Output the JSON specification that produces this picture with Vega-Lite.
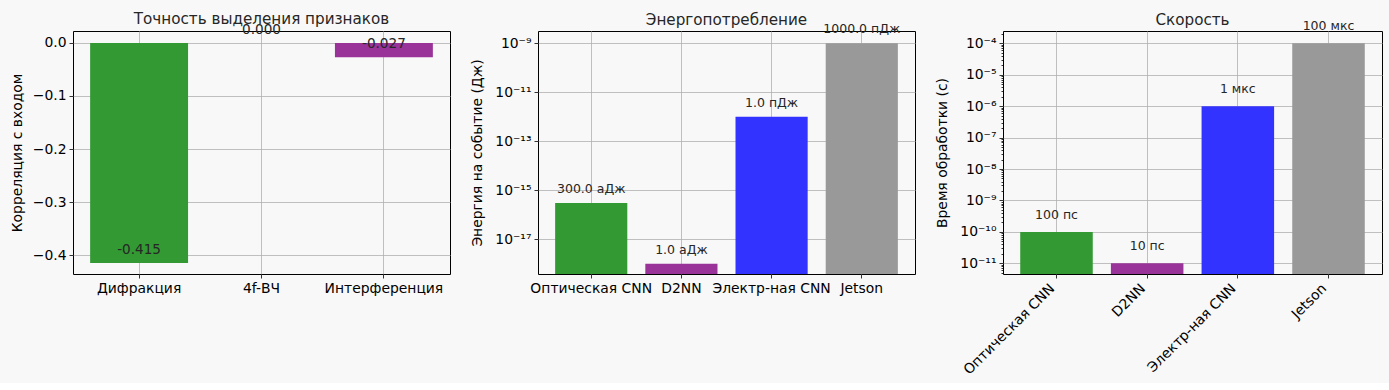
{
  "$schema": "https://vega.github.io/schema/vega-lite/v6.json",
  "background": "#f8f8f8",
  "padding": {"left": 9, "top": 11, "right": 6, "bottom": 5},
  "spacing": 19,
  "config": {
    "font": "DejaVu Sans",
    "view": {"stroke": "#000000", "strokeWidth": 1},
    "axis": {
      "domain": false,
      "ticks": true,
      "tickColor": "#000000",
      "tickSize": 4,
      "tickWidth": 0.8,
      "labelFontSize": 13.9,
      "labelColor": "#000000",
      "labelPadding": 3,
      "titleFontSize": 13.9,
      "titleFontWeight": "normal",
      "titleColor": "#000000",
      "grid": true,
      "gridColor": "#b0b0b0",
      "gridWidth": 0.8
    },
    "title": {"fontSize": 15.2, "fontWeight": "normal", "color": "#262626", "baseline": "alphabetic"}
  },
  "datasets": {
    "corr": [
      {"method": "Дифракция", "corr": -0.415, "label": "-0.415"},
      {"method": "4f-ВЧ", "corr": 0.0, "label": "0.000"},
      {"method": "Интерференция", "corr": -0.027, "label": "-0.027"}
    ],
    "energy": [
      {"system": "Оптическая CNN", "energy": 3e-16, "label": "300.0 аДж"},
      {"system": "D2NN", "energy": 1e-18, "label": "1.0 аДж"},
      {"system": "Электр-ная CNN", "energy": 1e-12, "label": "1.0 пДж"},
      {"system": "Jetson", "energy": 1e-9, "label": "1000.0 пДж"}
    ],
    "speed": [
      {"system": "Оптическая CNN", "time": 1e-10, "label": "100 пс"},
      {"system": "D2NN", "time": 1e-11, "label": "10 пс"},
      {"system": "Электр-ная CNN", "time": 1e-6, "label": "1 мкс"},
      {"system": "Jetson", "time": 1e-4, "label": "100 мкс"}
    ]
  },
  "hconcat": [
    {
      "width": 377,
      "height": 243,
      "title": {"text": "Точность выделения признаков", "offset": -4.3},
      "data": {"name": "corr"},
      "encoding": {
        "x": {"field": "method", "type": "nominal", "sort": null,
              "scale": {"paddingInner": 0.2, "paddingOuter": 0.14},
              "axis": {"title": null, "labelAngle": 0, "bandPosition": 0.5}},
        "y": {"field": "corr", "type": "quantitative",
              "scale": {"domain": [-0.4358, 0.0226], "nice": false, "zero": false},
              "axis": {"title": "Корреляция с входом", "values": [0, -0.1, -0.2, -0.3, -0.4], "format": ".1f", "titlePadding": 8}}
      },
      "layer": [
        {"mark": {"type": "bar"},
         "encoding": {"color": {"field": "method", "type": "nominal", "legend": null,
           "scale": {"domain": ["Дифракция", "4f-ВЧ", "Интерференция"], "range": ["#339933", "#3333ff", "#993399"]}}}},
        {"mark": {"type": "text", "dy": -9, "baseline": "alphabetic", "fontSize": 13.6, "color": "#262626"},
         "encoding": {"text": {"field": "label"}}}
      ]
    },
    {
      "width": 377,
      "height": 243,
      "title": {"text": "Энергопотребление", "offset": -4.8},
      "data": {"name": "energy"},
      "encoding": {
        "x": {"field": "system", "type": "nominal", "sort": null,
              "scale": {"paddingInner": 0.2, "paddingOuter": 0.19},
              "axis": {"title": null, "labelAngle": 0, "bandPosition": 0.5}},
        "y": {"field": "energy", "type": "quantitative",
              "scale": {"type": "log", "domain": [3.84e-19, 3.18e-9], "nice": false},
              "axis": {"title": "Энергия на событие (Дж)", "values": [1e-17, 1e-15, 1e-13, 1e-11, 1e-9], "titlePadding": 10,
                       "labelExpr": "'10' + replace(replace(replace(replace(replace(replace(replace(replace(replace(replace(replace(toString(round(log(datum.value)/LN10)), regexp('-','g'), '⁻'), regexp('0','g'), '⁰'), regexp('1','g'), '¹'), regexp('2','g'), '²'), regexp('3','g'), '³'), regexp('4','g'), '⁴'), regexp('5','g'), '⁵'), regexp('6','g'), '⁶'), regexp('7','g'), '⁷'), regexp('8','g'), '⁸'), regexp('9','g'), '⁹')"}}
      },
      "layer": [
        {"mark": {"type": "bar", "clip": true},
         "encoding": {"y2": {"datum": 1e-30},
           "color": {"field": "system", "type": "nominal", "legend": null,
           "scale": {"domain": ["Оптическая CNN", "D2NN", "Электр-ная CNN", "Jetson"], "range": ["#339933", "#993399", "#3333ff", "#999999"]}}}},
        {"mark": {"type": "text", "dy": -10, "baseline": "alphabetic", "fontSize": 12.5, "color": "#262626"},
         "encoding": {"text": {"field": "label"}}}
      ]
    },
    {
      "width": 379,
      "height": 243,
      "title": {"text": "Скорость", "offset": -7.8},
      "data": {"name": "speed"},
      "encoding": {
        "x": {"field": "system", "type": "nominal", "sort": null,
              "scale": {"paddingInner": 0.2, "paddingOuter": 0.19},
              "axis": {"title": null, "labelAngle": -45, "labelAlign": "right", "labelBaseline": "middle", "labelPadding": 8, "labelOffset": -4, "bandPosition": 0.5}},
        "y": {"field": "time", "type": "quantitative",
              "scale": {"type": "log", "domain": [4.57e-12, 2.47e-4], "nice": false},
              "axis": {"title": "Время обработки (с)", "titlePadding": 10,
                       "values": [5e-12, 6e-12, 7e-12, 8e-12, 9e-12,
                                  1e-11, 2e-11, 3e-11, 4e-11, 5e-11, 6e-11, 7e-11, 8e-11, 9e-11,
                                  1e-10, 2e-10, 3e-10, 4e-10, 5e-10, 6e-10, 7e-10, 8e-10, 9e-10,
                                  1e-9, 2e-9, 3e-9, 4e-9, 5e-9, 6e-9, 7e-9, 8e-9, 9e-9,
                                  1e-8, 2e-8, 3e-8, 4e-8, 5e-8, 6e-8, 7e-8, 8e-8, 9e-8,
                                  1e-7, 2e-7, 3e-7, 4e-7, 5e-7, 6e-7, 7e-7, 8e-7, 9e-7,
                                  1e-6, 2e-6, 3e-6, 4e-6, 5e-6, 6e-6, 7e-6, 8e-6, 9e-6,
                                  1e-5, 2e-5, 3e-5, 4e-5, 5e-5, 6e-5, 7e-5, 8e-5, 9e-5,
                                  1e-4, 2e-4],
                       "tickSize": {"condition": {"test": "abs(log(datum.value)/LN10 - round(log(datum.value)/LN10)) < 0.01", "value": 4}, "value": 2},
                       "gridOpacity": {"condition": {"test": "abs(log(datum.value)/LN10 - round(log(datum.value)/LN10)) < 0.01", "value": 1}, "value": 0},
                       "labelExpr": "abs(log(datum.value)/LN10 - round(log(datum.value)/LN10)) < 0.01 ? '10' + replace(replace(replace(replace(replace(replace(replace(replace(replace(replace(replace(toString(round(log(datum.value)/LN10)), regexp('-','g'), '⁻'), regexp('0','g'), '⁰'), regexp('1','g'), '¹'), regexp('2','g'), '²'), regexp('3','g'), '³'), regexp('4','g'), '⁴'), regexp('5','g'), '⁵'), regexp('6','g'), '⁶'), regexp('7','g'), '⁷'), regexp('8','g'), '⁸'), regexp('9','g'), '⁹') : ''"}}
      },
      "layer": [
        {"mark": {"type": "bar", "clip": true},
         "encoding": {"y2": {"datum": 1e-30},
           "color": {"field": "system", "type": "nominal", "legend": null,
           "scale": {"domain": ["Оптическая CNN", "D2NN", "Электр-ная CNN", "Jetson"], "range": ["#339933", "#993399", "#3333ff", "#999999"]}}}},
        {"mark": {"type": "text", "dy": -13, "baseline": "alphabetic", "fontSize": 12.5, "color": "#262626"},
         "encoding": {"text": {"field": "label"}}}
      ]
    }
  ],
  "resolve": {"scale": {"color": "independent", "x": "independent", "y": "independent"}}
}
